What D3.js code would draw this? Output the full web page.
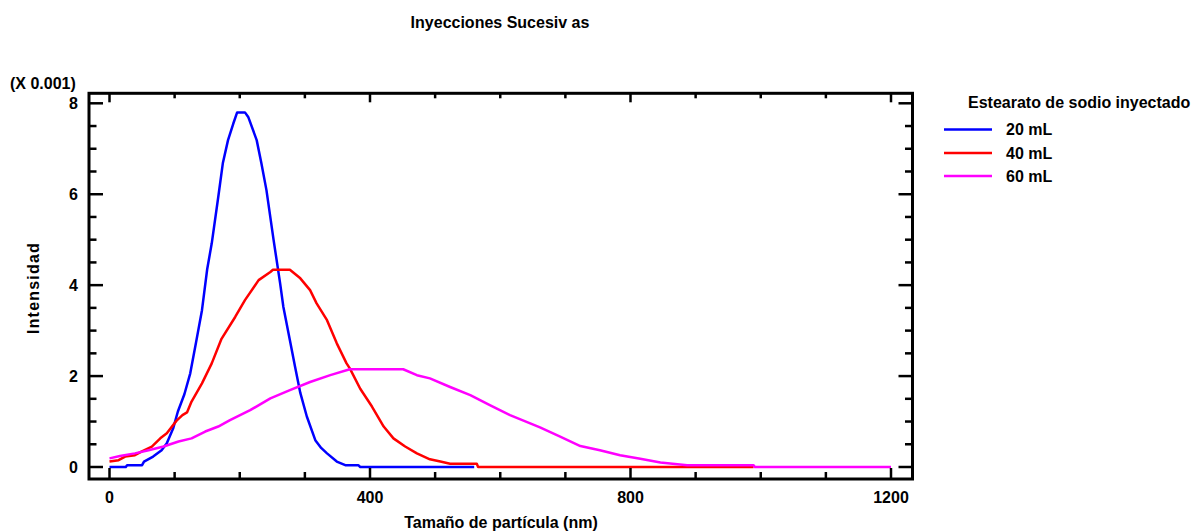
<!DOCTYPE html>
<html>
<head>
<meta charset="utf-8">
<script src="https://cdn.jsdelivr.net/npm/d3@7"></script>
<style>
  html, body { margin: 0; padding: 0; background: #fff; }
  svg text { font-family: "Liberation Sans", Arial, sans-serif; font-weight: bold; fill: #000; }
</style>
</head>
<body>
<svg id="chart" width="1194" height="531"></svg>
<script>
// Particle size distributions (intensity in units of 0.001) for successive injections
const seriesNames = ["20 mL", "40 mL", "60 mL"];
const seriesColors = ["#0000ff", "#ff0000", "#ff00ff"];

// [size nm, intensity]
const data20 = [
  [0,0],[25,0],[27,0.04],[50,0.04],[53,0.12],[67,0.23],[80,0.37],[88,0.52],[98,0.86],
  [105,1.22],[115,1.6],[124,2.06],[133,2.75],[142,3.45],[150,4.35],[157,4.92],[167,5.94],
  [174,6.68],[182,7.19],[190,7.55],[196,7.8],[208,7.8],[213,7.7],[226,7.19],[233,6.7],
  [241,6.09],[252,4.99],[262,4.04],[267,3.52],[277,2.79],[285,2.2],[293,1.63],[303,1.11],
  [316,0.59],[325,0.42],[334,0.3],[349,0.12],[362,0.04],[382,0.04],[385,0],[560,0]
];
const data40 = [
  [0,0.12],[14,0.15],[24,0.23],[39,0.26],[49,0.34],[65,0.45],[78,0.63],[88,0.74],[103,1.02],
  [112,1.14],[119,1.2],[126,1.44],[142,1.84],[157,2.28],[172,2.82],[193,3.3],[208,3.67],
  [229,4.11],[247,4.29],[251,4.34],[277,4.34],[293,4.15],[308,3.89],[318,3.6],[334,3.23],
  [349,2.72],[364,2.28],[369,2.17],[385,1.72],[403,1.33],[421,0.89],[436,0.63],[454,0.45],
  [472,0.3],[492,0.17],[508,0.12],[523,0.07],[564,0.07],[566,0],[989,0]
];
const data60 = [
  [0,0.19],[16,0.24],[39,0.3],[60,0.37],[83,0.45],[106,0.56],[126,0.63],[147,0.78],[167,0.89],
  [185,1.03],[216,1.25],[247,1.51],[277,1.69],[308,1.87],[339,2.02],[369,2.15],[451,2.15],
  [472,2.02],[492,1.95],[523,1.76],[554,1.58],[584,1.36],[615,1.14],[646,0.96],[661,0.87],
  [692,0.67],[723,0.46],[753,0.37],[784,0.26],[815,0.18],[846,0.1],[887,0.04],[989,0.04],
  [991,0],[1200,0]
];

const xMajorTicks = [0, 400, 800, 1200];
const yMajorTicks = [0, 2, 4, 6, 8];

const svg = d3.select("#chart");

// plot frame and scales
const frame = { left: 89, right: 912.5, top: 93.3, bottom: 479 };
const x = d3.scaleLinear().domain([0, 1200]).range([109.5, 891]);
const y = d3.scaleLinear().domain([0, 8]).range([467, 103.3]);

// curves
const line = d3.line().x(d => x(d[0])).y(d => y(d[1]));
[data20, data40, data60].forEach((ds, i) => {
  svg.append("path")
    .datum(ds)
    .attr("d", line)
    .attr("fill", "none")
    .attr("stroke", seriesColors[i])
    .attr("stroke-width", 2.5)
    .attr("stroke-linejoin", "round");
});

// frame
svg.append("rect")
  .attr("x", frame.left).attr("y", frame.top)
  .attr("width", frame.right - frame.left)
  .attr("height", frame.bottom - frame.top)
  .attr("fill", "none").attr("stroke", "#000").attr("stroke-width", 3);

// x ticks (inward, bottom and top)
const xTicks = d3.range(0, 1201, 100);
const tickG = svg.append("g").attr("stroke", "#000").attr("stroke-width", 2.5);
xTicks.forEach(t => {
  const len = xMajorTicks.includes(t) ? 11 : 7;
  tickG.append("line").attr("x1", x(t)).attr("x2", x(t))
    .attr("y1", frame.bottom).attr("y2", frame.bottom - len);
  tickG.append("line").attr("x1", x(t)).attr("x2", x(t))
    .attr("y1", frame.top).attr("y2", frame.top + len - 2);
});
// y ticks (inward, left and right)
const yTicks = d3.range(0, 8.01, 0.5);
yTicks.forEach(t => {
  const len = yMajorTicks.includes(t) ? 14 : 7.5;
  tickG.append("line").attr("y1", y(t)).attr("y2", y(t))
    .attr("x1", frame.left).attr("x2", frame.left + len);
  tickG.append("line").attr("y1", y(t)).attr("y2", y(t))
    .attr("x1", frame.right).attr("x2", frame.right - len);
});

// tick labels
svg.append("g").selectAll("text").data(xMajorTicks).join("text")
  .attr("x", d => x(d)).attr("y", 503)
  .attr("text-anchor", "middle").attr("font-size", 16)
  .text(d => d);
svg.append("g").selectAll("text").data(yMajorTicks).join("text")
  .attr("x", 78).attr("y", d => y(d)).attr("dy", "0.36em")
  .attr("text-anchor", "end").attr("font-size", 16)
  .text(d => d);

// titles
svg.append("text").attr("x", 500).attr("y", 28).attr("text-anchor", "middle")
  .attr("font-size", 16).text("Inyecciones Sucesiv as");
svg.append("text").attr("x", 10).attr("y", 89).attr("font-size", 16).text("(X 0.001)");
svg.append("text").attr("x", 501).attr("y", 527.5).attr("text-anchor", "middle")
  .attr("font-size", 16).text("Tamaño de partícula (nm)");
svg.append("text").attr("transform", "translate(39,288) rotate(-90)")
  .attr("text-anchor", "middle").attr("font-size", 16)
  .attr("letter-spacing", 1.2).text("Intensidad");

// legend
const legend = svg.append("g");
legend.append("text").attr("x", 968).attr("y", 107.5).attr("font-size", 16)
  .text("Estearato de sodio inyectado");
const legendY = [129.5, 153, 176];
seriesNames.forEach((name, i) => {
  legend.append("line").attr("x1", 944).attr("x2", 992)
    .attr("y1", legendY[i]).attr("y2", legendY[i])
    .attr("stroke", seriesColors[i]).attr("stroke-width", 2.5);
  legend.append("text").attr("x", 1006).attr("y", legendY[i]).attr("dy", "0.36em")
    .attr("font-size", 16).text(name);
});
</script>
</body>
</html>
